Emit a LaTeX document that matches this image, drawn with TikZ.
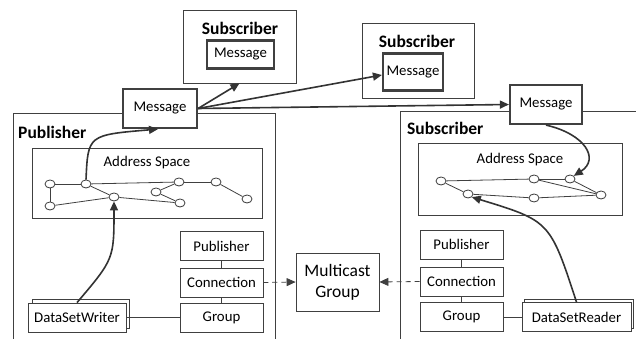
\documentclass[tikz,border=0pt]{standalone}
\usepackage{fontspec}
\setmainfont{Carlito}
\usetikzlibrary{arrows.meta, shapes.geometric, positioning}

\begin{document}
\begin{tikzpicture}[x=1pt, y=1pt]
	\tikzstyle{box}=[draw=black!75, fill=white, line width=0.8pt, inner sep=0pt, font=\fontsize{14.8}{17}\selectfont]
	\tikzstyle{msg}=[box, line width=2.2pt]
	\tikzstyle{unit}=[box, minimum width=83pt, minimum height=29pt]
	\tikzstyle{vtx}=[ellipse, draw=black!75, fill=white, line width=0.8pt, minimum width=10pt, minimum height=8pt, inner sep=0pt]
	\tikzstyle{title}=[font=\bfseries\fontsize{17.5}{20}\selectfont, inner sep=0pt]
	\tikzstyle{flow}=[draw=black!80, line width=1.6pt, -{Triangle[length=9pt,width=8pt]}]
	\tikzstyle{link}=[draw=black!75, line width=0.8pt]
	\tikzstyle{dashflow}=[link, dash pattern=on 5pt off 4pt, -{Triangle[length=9pt,width=8pt]}]

	\useasboundingbox (0,0) rectangle (636,339);

	% frames
	\draw[link] (13,0) -- (13,226) -- (275,226) -- (275,0);
	\draw[link] (636,228) -- (400,228) -- (400,0);
	\node (pubt) at (18,207) [title, anchor=west]{Publisher};
	\node (subt) at (407,211) [title, anchor=west]{Subscriber};

	% other subscribers
	\node (sub1) at (239.5,292.5) [box, minimum width=113pt, minimum height=73pt]{};
	\node (sub1t) at (240,311) [title]{Subscriber};
	\node (msg1) at (240.5,284.5) [msg, minimum width=67pt, minimum height=28pt]{Message};
	\node (sub2) at (418,278.5) [box, minimum width=112pt, minimum height=75pt]{};
	\node (sub2t) at (417,298) [title]{Subscriber};
	\node (msg2) at (413,267) [msg, minimum width=60pt, minimum height=37pt]{Message};

	\node (msgL) at (160,230.5) [msg, minimum width=74pt, minimum height=39pt]{Message};
	\node (msgR) at (546,234.5) [msg, minimum width=72pt, minimum height=39pt]{Message};

	% address spaces
	\node (asL) at (147,156) [box, minimum width=230pt, minimum height=70pt]{};
	\node (asLt) at (147,176) [font=\fontsize{14.8}{17}\selectfont]{Address Space};
	\node (asR) at (520,160) [box, minimum width=204pt, minimum height=72pt]{};
	\node (asRt) at (520,179) [font=\fontsize{14.8}{17}\selectfont]{Address Space};

	\node (a1) at (50,155) [vtx]{};
	\node (a2) at (86,155) [vtx]{};
	\node (a3) at (50,133) [vtx]{};
	\node (a4) at (114,142) [vtx]{};
	\node (a5) at (179,157) [vtx]{};
	\node (a6) at (156,147) [vtx]{};
	\node (a7) at (180,136) [vtx]{};
	\node (a8) at (216,157) [vtx]{};
	\node (a9) at (247,140) [vtx]{};
	\draw[link] (a1) -- (a2);
	\draw[link] (a1) -- (a3);
	\draw[link] (a3) -- (a4);
	\draw[link] (a2) -- (a4);
	\draw[link] (a2) -- (a5);
	\draw[link] (a4) -- (a7);
	\draw[link] (a6) -- (a5);
	\draw[link] (a6) -- (a7);
	\draw[link] (a5) -- (a8);
	\draw[link] (a8) -- (a9);

	\node (b1) at (441,158) [vtx]{};
	\node (b2) at (534,160) [vtx]{};
	\node (b3) at (570,160) [vtx]{};
	\node (b4) at (468,145) [vtx]{};
	\node (b5) at (534,141) [vtx]{};
	\node (b6) at (601,144) [vtx]{};
	\draw[link] (b1) -- (b2);
	\draw[link] (b2) -- (b3);
	\draw[link] (b1) -- (b4);
	\draw[link] (b4) -- (b5);
	\draw[link] (b5) -- (b6);
	\draw[link] (b2) -- (b6);
	\draw[link] (b3) -- (b6);

	% connection stacks
	\node (pubL) at (221.5,93) [unit]{Publisher};
	\node (conL) at (221.5,56.5) [unit]{Connection};
	\node (grpL) at (221.5,21.5) [unit]{Group};
	\node (pubR) at (461.5,94.5) [unit]{Publisher};
	\node (conR) at (461.5,57.5) [unit]{Connection};
	\node (grpR) at (461.5,22) [unit]{Group};
	\draw[link] (pubL) -- (conL);
	\draw[link] (conL) -- (grpL);
	\draw[link] (pubR) -- (conR);
	\draw[link] (conR) -- (grpR);

	\node (mcast) at (337.5,57) [box, minimum width=83pt, minimum height=58pt, align=center, font=\fontsize{17.5}{21}\selectfont]{Multicast\\Group};
	\draw[dashflow] (conL.east) -- (mcast.west);
	\draw[dashflow] (conR.west) -- (mcast.east);

	\node (dswb) at (80.5,25.5) [box, minimum width=97pt, minimum height=29pt]{};
	\node (dsw) at (77,21.5) [box, minimum width=98pt, minimum height=29pt]{DataSetWriter};
	\node (dsrb) at (578.5,25) [box, minimum width=109pt, minimum height=29pt]{};
	\node (dsr) at (576.5,22) [box, minimum width=109pt, minimum height=29pt]{DataSetReader};
	\draw[link] (dsw.east) -- (dsw.east -| grpL.west);
	\draw[link] (grpR.east) -- (grpR.east -| dsr.west);

	% data flow
	\draw[flow] (msgL.east) -- (sub1.south);
	\draw[flow] (msgL.east) -- ([yshift=-3pt]msg2.west);
	\draw[flow] (msgL.east) -- (msgR.west);
	\draw[flow] (a2.north) .. controls (88,204) .. ([xshift=-2pt]msgL.south);
	\draw[flow] (dsw.north) .. controls (114,80) .. (a4.south);
	\draw[flow] (msgR.south) .. controls (585,205) and (600,180) .. (b3.north east);
	\draw[flow] (dsr.north) .. controls (550,118) .. (b4.south east);
\end{tikzpicture}
\end{document}
